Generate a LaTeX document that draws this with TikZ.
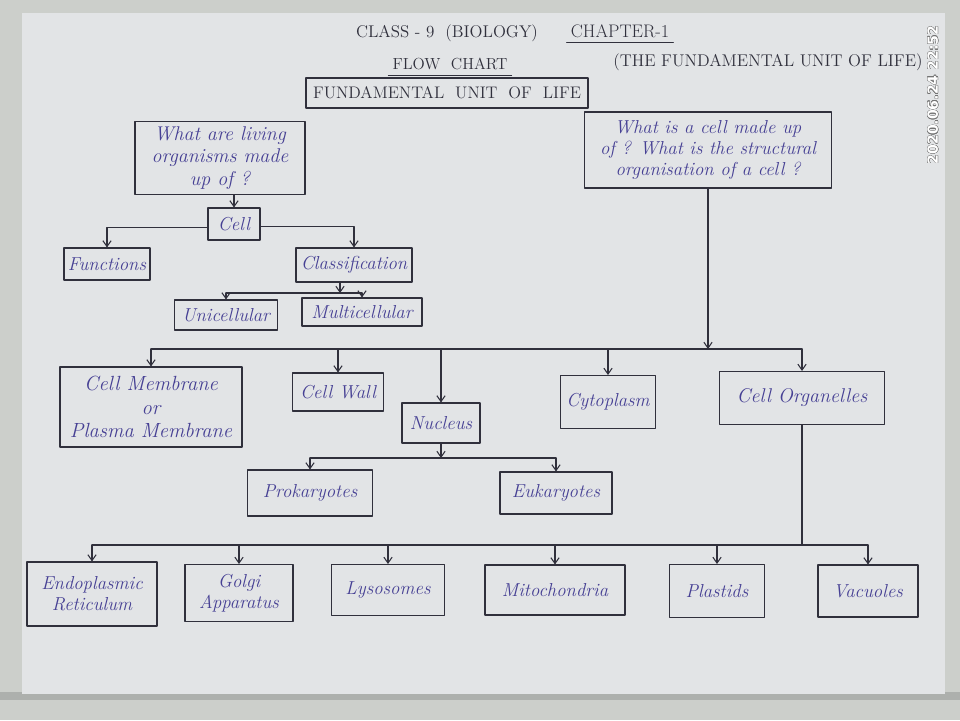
\documentclass[tikz,border=0pt]{standalone}
\usepackage{amssymb, amsmath}
\usepackage{fontspec}
\usepackage{contour}
\usetikzlibrary{arrows.meta}
\usetikzlibrary{positioning}
\definecolor{paper}{RGB}{226,228,230}
\definecolor{desk}{RGB}{204,207,203}
\definecolor{ink}{RGB}{48,48,60}
\definecolor{pen}{RGB}{70,64,148}
\newfontfamily\stampfont{DejaVu Sans}

\begin{document}
\begin{tikzpicture}[line cap=round,line join=round,>={Straight Barb[length=5pt,width=7pt]},x=0.03cm,y=-0.03cm]
  \tikzset{
  % one box of the flow chart, size given in pixels of the sheet
  box/.style={draw=ink,line width=0.9pt,text=pen,align=center,inner sep=2pt,
    font=\fontsize{16}{18}\selectfont\itshape},
  sz/.style 2 args={minimum width=#1*0.03cm,minimum height=#2*0.03cm},
  head/.style={text=ink,font=\fontsize{14.5}{17}\selectfont},
  link/.style={draw=ink,line width=0.9pt},
}
\useasboundingbox (0,0) rectangle (960,720);
\fill[desk] (0,0) rectangle (960,720);
\fill[desk!85!black] (0,692) rectangle (960,700);
\fill[paper] (22,13) rectangle (945,694);

% headings
\node[head] (T1) at (447,33) {CLASS - 9 \ (BIOLOGY)};
\node[head,font=\fontsize{15.5}{17}\selectfont] (T2) at (620,31) {CHAPTER-1};
\draw[link] ([yshift=-1pt]T2.south west) -- ([yshift=-1pt]T2.south east);
\node[head] (T3) at (768,62) {(THE FUNDAMENTAL UNIT OF LIFE)};
\node[head,font=\fontsize{13.7}{16}\selectfont] (T4) at (450,64) {FLOW \ CHART};
\draw[link] ([yshift=-1pt]T4.south west) -- ([yshift=-1pt]T4.south east);
\node[box,sz={282}{30},text=ink,font=\fontsize{14.3}{16}\selectfont] (FU) at (447,93) {FUNDAMENTAL \ UNIT \ OF \ LIFE};

% left question
\node[box,sz={170}{73},font=\fontsize{17}{19}\selectfont\itshape] (Q1) at (220,158) {What are living\\organisms made\\up of ?};
\node[box,sz={52}{32}] (Cell) at (234,224) {Cell};
\node[box,sz={86}{32}] (Func) at (107,264) {Functions};
\node[box,sz={116}{34}] (Clas) at (354,265) {Classification};
\node[box,sz={103}{30}] (Uni) at (226,315) {Unicellular};
\node[box,sz={120}{28}] (Mul) at (362,312) {Multicellular};

\draw[->,link] (Cell.north |- Q1.south) -- (Cell.north);
\draw[->,link] ([yshift=-3pt]Cell.west) -| (Func.north);
\draw[->,link] ([yshift=-2pt]Cell.east) -| (Clas.north);
\coordinate (K) at (340,293);
\draw[->,link] (Clas.south -| K) -- (K);
\draw[link] (Uni.north |- K) -- (Mul.north |- K);
\foreach \n in {Uni,Mul}
  \draw[->,link] (\n.north |- K) -- (\n.north);

% right question
\node[box,sz={247}{76}] (Q2) at (708,150) {What is a cell made up\\of ? What is the structural\\organisation of a cell ?};
\node[box,sz={182}{80},font=\fontsize{17.5}{20}\selectfont\itshape] (CM) at (151,407) {Cell Membrane\\or\\Plasma Membrane};
\node[box,sz={91}{38}] (CW) at (338,392) {Cell Wall};
\node[box,sz={78}{40}] (NU) at (441,423) {Nucleus};
\node[box,sz={95}{53}] (CY) at (608,402) {Cytoplasm};
\node[box,sz={165}{53},font=\fontsize{17}{19}\selectfont\itshape] (CO) at (802,398) {Cell Organelles};
\node[box,sz={125}{46}] (PR) at (310,493) {Prokaryotes};
\node[box,sz={112}{42}] (EU) at (556,493) {Eukaryotes};

\coordinate (M) at (708,349);
\draw[->,link] (Q2.south -| M) -- (M);
\draw[link] (CM.north |- M) -- (CO.north |- M);
\foreach \n in {CM,CW,NU,CY,CO}
  \draw[->,link] (\n.north |- M) -- (\n.north);

\coordinate (N) at (441,458);
\draw[->,link] (NU.south) -- (N);
\draw[link] (PR.north |- N) -- (EU.north |- N);
\foreach \n in {PR,EU}
  \draw[->,link] (\n.north |- N) -- (\n.north);

% cell organelles
\node[box,sz={130}{64}] (ER) at (92,594) {Endoplasmic\\Reticulum};
\node[box,sz={108}{57}] (GA) at (239,593) {Golgi\\Apparatus};
\node[box,sz={113}{51}] (LY) at (388,590) {Lysosomes};
\node[box,sz={140}{50}] (MI) at (555,590) {Mitochondria};
\node[box,sz={95}{53}] (PL) at (717,591) {Plastids};
\node[box,sz={100}{52}] (VA) at (868,591) {Vacuoles};

\coordinate (O) at (802,545);
\draw[link] (CO.south) -- (O);
\draw[link] (ER.north |- O) -- (VA.north |- O);
\foreach \n in {ER,GA,LY,MI,PL,VA}
  \draw[->,link] (\n.north |- O) -- (\n.north);

% date stamp of the photo
\node[rotate=90,text=white,font=\stampfont\bfseries\fontsize{12}{14}\selectfont] (TS) at (933,95) {\contourlength{0.25pt}\contournumber{12}\contour{black!55}{2020.06.24 22:52}};
\end{tikzpicture}
\end{document}
